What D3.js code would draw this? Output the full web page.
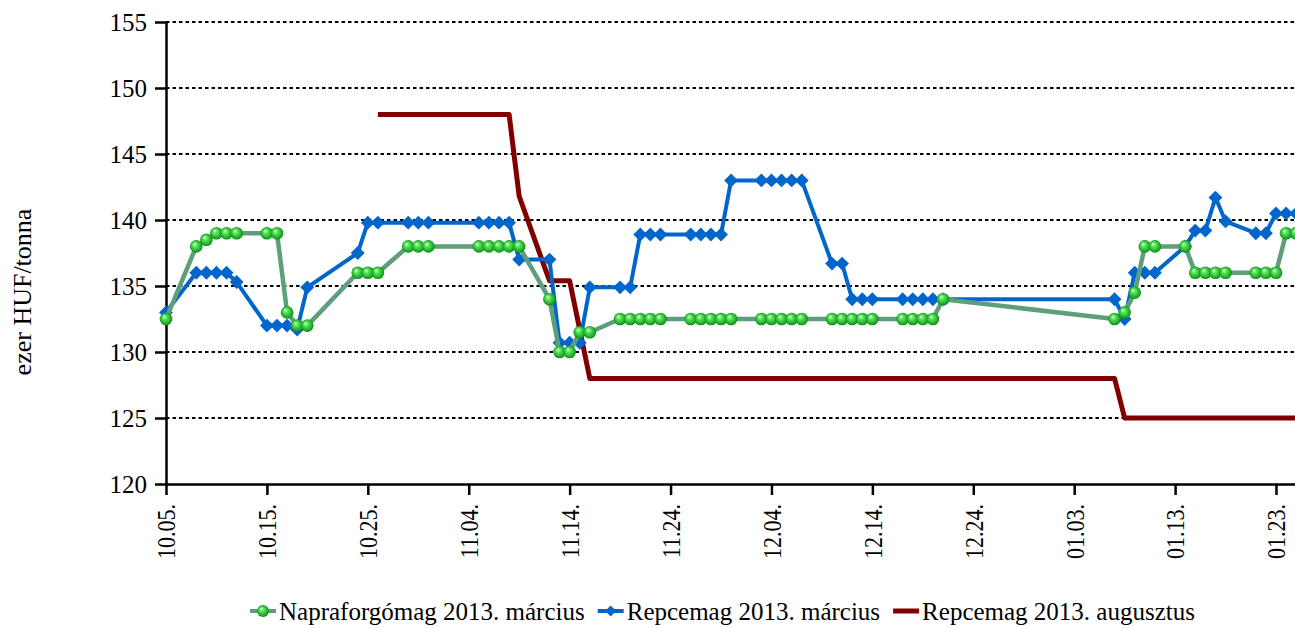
<!DOCTYPE html>
<html>
<head>
<meta charset="utf-8">
<script src="https://cdn.jsdelivr.net/npm/d3@7"></script>
<style>
body { margin: 0; background: #fff; }
svg { display: block; font-family: "Liberation Serif", "Times New Roman", serif; }
</style>
</head>
<body>
<svg width="1295" height="628"></svg>
<script>
// trading days (MM.DD), Oct 2012 - Jan 2013
var tradeDays = ["10.05", "10.08", "10.09", "10.10", "10.11", "10.12", "10.15", "10.16", "10.17", "10.18", "10.19",
    "10.24", "10.25", "10.26", "10.29", "10.30", "10.31", "11.05", "11.06", "11.07", "11.08", "11.09",
    "11.12", "11.13", "11.14", "11.15", "11.16", "11.19", "11.20", "11.21", "11.22", "11.23",
    "11.26", "11.27", "11.28", "11.29", "11.30", "12.03", "12.04", "12.05", "12.06", "12.07",
    "12.10", "12.11", "12.12", "12.13", "12.14", "12.17", "12.18", "12.19", "12.20", "12.21",
    "01.07", "01.08", "01.09", "01.10", "01.11", "01.14", "01.15", "01.16", "01.17", "01.18",
    "01.21", "01.22", "01.23", "01.24", "01.25", "01.28"];
var napraValues = [132.5, 138, 138.5, 139, 139, 139, 139, 139, 133, 132, 132,
    136, 136, 136, 138, 138, 138, 138, 138, 138, 138, 138,
    134, 130, 130, 131.5, 131.5, 132.5, 132.5, 132.5, 132.5, 132.5,
    132.5, 132.5, 132.5, 132.5, 132.5, 132.5, 132.5, 132.5, 132.5, 132.5,
    132.5, 132.5, 132.5, 132.5, 132.5, 132.5, 132.5, 132.5, 132.5, 134,
    132.5, 133, 134.5, 138, 138, 138, 136, 136, 136, 136,
    136, 136, 136, 139, 139, 139];
var repceMarValues = [133, 136, 136, 136, 136, 135.3, 132, 132, 132, 131.7, 134.9,
    137.5, 139.8, 139.8, 139.8, 139.8, 139.8, 139.8, 139.8, 139.8, 139.8, 137,
    137, 130.7, 130.7, 130.7, 134.9, 134.9, 134.9, 138.9, 138.9, 138.9,
    138.9, 138.9, 138.9, 138.9, 143, 143, 143, 143, 143, 143,
    136.7, 136.7, 134, 134, 134, 134, 134, 134, 134, 134,
    134, 132.5, 136, 136, 136, 138, 139.2, 139.2, 141.7, 139.9,
    139, 139, 140.5, 140.5, 140.5, 140.5];
var repceAugDays = ["10.26", "11.08", "11.09", "11.12", "11.14", "11.16", "01.07", "01.08", "01.28"];
var repceAugValues = [148, 148, 141.8, 135.4, 135.4, 128, 128, 125, 125];

var yTicks = [120, 125, 130, 135, 140, 145, 150, 155];
var xTickDays = ["10.05", "10.15", "10.25", "11.04", "11.14", "11.24", "12.04", "12.14", "12.24", "01.03", "01.13", "01.23"];
var seriesNames = ["Napraforgómag 2013. március", "Repcemag 2013. március", "Repcemag 2013. augusztus"];
var yTitle = "ezer HUF/tonna";

function parseDay(s) {
    var m = +s.slice(0, 2), d = +s.slice(3, 5);
    return new Date(Date.UTC(m >= 10 ? 2012 : 2013, m - 1, d));
}

var svg = d3.select("svg");
var plotLeft = 166, plotTop = 22, plotBottom = 484;
var pxPerDay = (1276 - plotLeft) / 110;

var x = d3.scaleUtc()
    .domain([parseDay("10.05"), parseDay("01.28")])
    .range([plotLeft, plotLeft + 115 * pxPerDay]);
var y = d3.scaleLinear().domain([120, 155]).range([plotBottom, plotTop]);

// gridlines
svg.append("g").selectAll("line")
    .data(yTicks.slice(1))
    .enter().append("line")
    .attr("x1", plotLeft).attr("x2", 1300)
    .attr("y1", function(d) { return y(d); })
    .attr("y2", function(d) { return y(d); })
    .attr("stroke", "#000")
    .attr("stroke-width", 2)
    .attr("stroke-dasharray", "3.5,3");

// axes
var yAxis = svg.append("g")
    .attr("transform", "translate(" + plotLeft + ",0)")
    .call(d3.axisLeft(y).tickValues(yTicks).tickSize(11).tickSizeOuter(0).tickPadding(8))
    .attr("font-family", "Liberation Serif")
    .attr("font-size", 25);
yAxis.selectAll("text").attr("fill", "#000").attr("dy", "0.34em");

var xAxis = svg.append("g")
    .attr("transform", "translate(0," + plotBottom + ")")
    .call(d3.axisBottom(x).tickValues(xTickDays.map(parseDay)).tickSize(11).tickSizeOuter(0)
        .tickFormat(d3.utcFormat("%m.%d.")))
    .attr("font-family", "Liberation Serif")
    .attr("font-size", 22);
xAxis.selectAll("text")
    .attr("transform", "rotate(-90) scale(1,1.15)")
    .attr("x", -20).attr("y", 0).attr("dy", "0.35em")
    .attr("text-anchor", "end")
    .attr("fill", "#000");

svg.selectAll(".domain, .tick line").attr("stroke", "#000").attr("stroke-width", 2.5);

svg.append("text")
    .attr("transform", "translate(31,292) rotate(-90)")
    .attr("text-anchor", "middle")
    .attr("font-size", 26)
    .text(yTitle);

// marker defs
var defs = svg.append("defs");
var grad = defs.append("radialGradient").attr("id", "ball")
    .attr("cx", "50%").attr("cy", "50%").attr("r", "55%").attr("fx", "35%").attr("fy", "30%");
grad.append("stop").attr("offset", "0%").attr("stop-color", "#e6ffe6");
grad.append("stop").attr("offset", "30%").attr("stop-color", "#5ee65e");
grad.append("stop").attr("offset", "75%").attr("stop-color", "#1fae2a");
grad.append("stop").attr("offset", "100%").attr("stop-color", "#0b7414");

var line = d3.line()
    .x(function(d) { return x(d.date); })
    .y(function(d) { return y(d.value); });

var red = repceAugDays.map(function(s, i) { return {date: parseDay(s), value: repceAugValues[i]}; });
var blue = tradeDays.map(function(s, i) { return {date: parseDay(s), value: repceMarValues[i]}; });
var green = tradeDays.map(function(s, i) { return {date: parseDay(s), value: napraValues[i]}; });

var diamond = d3.symbol().type(d3.symbolSquare).size(96);

svg.append("path").datum(red)
    .attr("d", line).attr("fill", "none")
    .attr("stroke", "#800000").attr("stroke-width", 5).attr("stroke-linejoin", "round");

svg.append("path").datum(blue)
    .attr("d", line).attr("fill", "none")
    .attr("stroke", "#0066cc").attr("stroke-width", 4).attr("stroke-linejoin", "round");
svg.append("g").selectAll("path")
    .data(blue).enter().append("path")
    .attr("d", diamond)
    .attr("transform", function(d) { return "translate(" + x(d.date) + "," + y(d.value) + ") rotate(45)"; })
    .attr("fill", "#0066cc");

svg.append("path").datum(green)
    .attr("d", line).attr("fill", "none")
    .attr("stroke", "#5e9e7b").attr("stroke-width", 4.5).attr("stroke-linejoin", "round");
svg.append("g").selectAll("circle")
    .data(green).enter().append("circle")
    .attr("cx", function(d) { return x(d.date); })
    .attr("cy", function(d) { return y(d.value); })
    .attr("r", 6.3)
    .attr("fill", "url(#ball)");

// legend
var legend = svg.append("g");
var lx = 250, ly = 611;
seriesNames.forEach(function(name, i) {
    var colors = ["#5e9e7b", "#0066cc", "#800000"];
    legend.append("line")
        .attr("x1", lx).attr("x2", lx + 26).attr("y1", ly).attr("y2", ly)
        .attr("stroke", colors[i]).attr("stroke-width", i == 2 ? 5 : 4);
    if (i == 0) {
        legend.append("circle").attr("cx", lx + 13).attr("cy", ly).attr("r", 6).attr("fill", "url(#ball)");
    } else if (i == 1) {
        legend.append("path").attr("d", d3.symbol().type(d3.symbolSquare).size(60))
            .attr("transform", "translate(" + (lx + 13) + "," + ly + ") rotate(45)")
            .attr("fill", colors[i]);
    }
    var t = legend.append("text")
        .attr("x", lx + 29).attr("y", 620)
        .attr("font-size", 25)
        .text(name);
    lx = lx + 29 + t.node().getComputedTextLength() + 13;
});
</script>
</body>
</html>
